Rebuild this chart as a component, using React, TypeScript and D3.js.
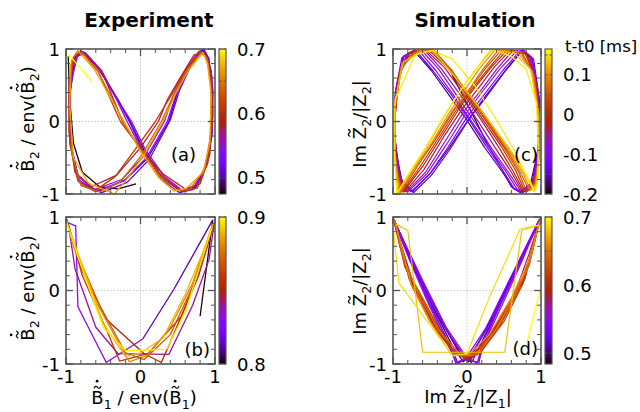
import React from 'react';
import * as d3 from 'd3';

const FONT = '"DejaVu Sans", sans-serif';
const FS = 18;

// ---------------- data ----------------
const axisTickValues = [-1, 0, 1];
const axisTickLabels = ['-1', '0', '1'];

// (a) experiment, colour = time [ms]
const expADomain = [0.475, 0.7];
const expACbTicks = [0.5, 0.6, 0.7];
const expATimes = [0.478, 0.495, 0.515, 0.535, 0.555, 0.58, 0.61, 0.64, 0.67, 0.7];
const expACurves = [
  [[-0.97, 0.9], [-0.95, 0.3], [-0.9, -0.3], [-0.78, -0.7], [-0.55, -0.9], [-0.3, -0.93], [-0.06, -0.86]],
  [[-0.78, 0.97], [-0.55, 0.72], [-0.3, 0.3], [-0.14, 0.0], [0.05, -0.4], [0.3, -0.78], [0.54, -0.96], [0.72, -0.93], [0.88, -0.62], [0.96, -0.15], [0.97, 0.45], [0.91, 0.88], [0.83, 0.99], [0.66, 0.76], [0.5, 0.42], [0.38, 0.0], [0.1, -0.5], [-0.2, -0.8], [-0.55, -0.96], [-0.82, -0.84], [-0.93, -0.35], [-0.95, 0.35], [-0.88, 0.88]],
  [[-0.8, 0.98], [-0.57, 0.74], [-0.32, 0.32], [-0.15, 0.0], [0.04, -0.42], [0.28, -0.8], [0.52, -0.98], [0.7, -0.94], [0.87, -0.64], [0.96, -0.2], [0.97, 0.4], [0.92, 0.86], [0.85, 1.0], [0.68, 0.78], [0.52, 0.42], [0.4, 0.02], [0.12, -0.52], [-0.18, -0.84], [-0.52, -0.98], [-0.8, -0.88], [-0.92, -0.42], [-0.96, 0.3], [-0.9, 0.86]],
  [[-0.76, 0.96], [-0.54, 0.7], [-0.3, 0.28], [-0.12, 0.0], [0.06, -0.38], [0.32, -0.76], [0.56, -0.95], [0.74, -0.9], [0.9, -0.55], [0.96, 0.0], [0.95, 0.6], [0.88, 0.94], [0.8, 0.97], [0.62, 0.72], [0.48, 0.38], [0.36, 0.0], [0.08, -0.5], [-0.22, -0.82], [-0.6, -0.96], [-0.84, -0.8], [-0.94, -0.25], [-0.94, 0.45], [-0.86, 0.9]],
  [[-0.74, 0.95], [-0.52, 0.7], [-0.32, 0.3], [-0.18, 0.0], [0.02, -0.4], [0.3, -0.78], [0.55, -0.96], [0.74, -0.92], [0.9, -0.58], [0.97, 0.05], [0.96, 0.62], [0.88, 0.92], [0.78, 0.96], [0.6, 0.7], [0.44, 0.36], [0.32, 0.0], [0.06, -0.46], [-0.25, -0.8], [-0.62, -0.94], [-0.86, -0.74], [-0.95, -0.2], [-0.95, 0.5], [-0.84, 0.92]],
  [[-0.72, 0.92], [-0.5, 0.65], [-0.36, 0.3], [-0.24, 0.0], [-0.02, -0.35], [0.3, -0.72], [0.6, -0.93], [0.8, -0.86], [0.93, -0.46], [0.97, 0.1], [0.95, 0.7], [0.86, 0.95], [0.72, 0.92], [0.52, 0.58], [0.36, 0.3], [0.24, 0.0], [0.0, -0.36], [-0.32, -0.74], [-0.66, -0.9], [-0.88, -0.7], [-0.96, -0.15], [-0.96, 0.55], [-0.88, 0.9]],
  [[-0.78, 0.96], [-0.56, 0.68], [-0.4, 0.3], [-0.27, 0.0], [-0.04, -0.32], [0.26, -0.72], [0.56, -0.96], [0.76, -0.92], [0.9, -0.58], [0.96, -0.05], [0.95, 0.55], [0.88, 0.9], [0.78, 0.96], [0.58, 0.66], [0.4, 0.34], [0.2, 0.0], [-0.04, -0.34], [-0.34, -0.76], [-0.62, -0.96], [-0.84, -0.82], [-0.95, -0.3], [-0.96, 0.4], [-0.9, 0.88]],
  [[-0.8, 0.97], [-0.58, 0.7], [-0.38, 0.32], [-0.24, 0.0], [0.0, -0.38], [0.26, -0.76], [0.48, -0.95], [0.66, -0.94], [0.86, -0.66], [0.94, -0.2], [0.95, 0.45], [0.9, 0.86], [0.82, 0.96], [0.62, 0.7], [0.44, 0.36], [0.28, 0.0], [0.02, -0.46], [-0.28, -0.84], [-0.55, -0.97], [-0.8, -0.88], [-0.92, -0.45], [-0.95, 0.3], [-0.92, 0.85]],
  [[-0.84, 0.98], [-0.62, 0.72], [-0.4, 0.32], [-0.22, 0.0], [0.0, -0.42], [0.25, -0.78], [0.45, -0.96], [0.62, -0.92], [0.84, -0.7], [0.93, -0.3], [0.95, 0.35], [0.9, 0.8], [0.84, 0.95], [0.64, 0.7], [0.46, 0.36], [0.3, 0.0], [0.05, -0.46], [-0.2, -0.82], [-0.35, -1.0], [-0.7, -0.85], [-0.9, -0.5], [-0.95, 0.2], [-0.94, 0.8]],
  [[-0.94, 0.8], [-0.96, 0.92], [-0.66, 0.56]],
];

// (b) experiment
const expBDomain = [0.8, 0.9];
const expBCbTicks = [0.8, 0.9];
const expBTimes = [0.801, 0.812, 0.83, 0.84, 0.85, 0.86, 0.87, 0.88, 0.89, 0.898];
const expBCurves = [
  [[0.8, -0.35], [0.97, 0.96]],
  [[0.97, 0.96], [0.45, 0.02], [0.03, -0.66]],
  [[0.03, -0.66], [-0.46, -0.98], [-0.84, -0.22], [-0.87, 0.88], [-0.97, 0.92]],
  [[-0.97, 0.92], [-0.88, 0.3], [-0.6, -0.5], [-0.3, -0.86], [0.38, -0.87], [0.7, -0.2], [0.92, 0.42], [0.99, 0.92]],
  [[0.99, 0.92], [0.78, 0.2], [0.52, -0.42], [0.28, -0.98], [0.05, -0.86], [-0.45, -0.4], [-0.8, 0.3], [-0.99, 0.97]],
  [[-0.99, 0.97], [-0.78, 0.2], [-0.45, -0.55], [-0.28, -0.96], [0.1, -0.86], [0.55, -0.35], [0.85, 0.45], [0.98, 0.92]],
  [[0.98, 0.92], [0.7, 0.05], [0.4, -0.6], [0.05, -0.94], [-0.2, -0.85], [-0.55, -0.2], [-0.85, 0.5], [-1.0, 0.98]],
  [[-1.0, 0.98], [-0.9, 0.6], [-0.6, -0.15], [-0.3, -0.7], [-0.15, -0.97], [0.1, -0.88], [0.4, -0.5], [0.7, 0.1], [0.97, 0.9]],
  [[0.97, 0.9], [0.85, 0.55], [0.6, -0.05], [0.3, -0.65], [0.0, -0.85], [-0.2, -0.9], [-0.5, -0.45], [-0.8, 0.4], [-1.0, 0.95]],
  [[-1.0, 0.95], [-0.75, 0.2], [-0.5, -0.5], [-0.2, -0.82], [0.35, -0.8], [0.6, -0.3], [0.88, 0.6], [0.96, 0.85]],
];

// (c) simulation
const simCDomain = [-0.2, 0.165];
const simCCbTicks = [-0.2, -0.1, 0, 0.1];
const simCTimes = [-0.195, -0.17, -0.14, -0.11, -0.085, -0.06, -0.035, -0.01, 0.015, 0.04, 0.07, 0.1, 0.13, 0.155];
const simCCurves = [
  [[-0.2, 0.64], [0.05, 0.15], [0.27, -0.3]],
  [[0.27, -0.3], [0.45, -0.62], [0.6, -0.9], [0.72, -0.98], [0.86, -0.85], [0.96, -0.4], [0.98, 0.25], [0.88, 0.85], [0.74, 0.98], [0.5, 0.68], [0.25, 0.35], [0.0, 0.0], [-0.25, -0.38], [-0.5, -0.72], [-0.74, -0.97], [-0.88, -0.82], [-0.98, -0.3], [-0.97, 0.35], [-0.86, 0.9], [-0.72, 0.98], [-0.48, 0.7], [-0.24, 0.36], [0.0, 0.02], [0.24, -0.36]],
  [[0.24, -0.36], [0.48, -0.7], [0.62, -0.92], [0.74, -0.99], [0.88, -0.84], [0.97, -0.35], [0.98, 0.3], [0.9, 0.86], [0.76, 0.99], [0.52, 0.7], [0.26, 0.34], [0.02, 0.02], [-0.24, -0.4], [-0.48, -0.74], [-0.72, -0.98], [-0.9, -0.8], [-0.98, -0.25], [-0.97, 0.4], [-0.88, 0.88], [-0.7, 0.99], [-0.46, 0.7], [-0.22, 0.38], [0.02, 0.04], [0.26, -0.34]],
  [[0.26, -0.34], [0.5, -0.7], [0.64, -0.93], [0.76, -0.98], [0.9, -0.82], [0.97, -0.3], [0.97, 0.35], [0.88, 0.88], [0.72, 0.98], [0.48, 0.7], [0.24, 0.38], [0.0, 0.06], [-0.26, -0.36], [-0.5, -0.72], [-0.76, -0.97], [-0.9, -0.78], [-0.98, -0.2], [-0.96, 0.45], [-0.85, 0.9], [-0.66, 0.99], [-0.42, 0.7], [-0.18, 0.36], [0.05, 0.02], [0.3, -0.36]],
  [[0.3, -0.36], [0.52, -0.68], [0.68, -0.94], [0.8, -0.97], [0.92, -0.78], [0.97, -0.25], [0.96, 0.4], [0.86, 0.9], [0.68, 0.98], [0.44, 0.72], [0.2, 0.4], [-0.02, 0.1], [-0.28, -0.32], [-0.54, -0.72], [-0.8, -0.97], [-0.92, -0.72], [-0.98, -0.15], [-0.95, 0.5], [-0.82, 0.92], [-0.62, 0.99], [-0.38, 0.72], [-0.14, 0.36], [0.1, 0.0], [0.34, -0.38]],
  [[0.34, -0.38], [0.56, -0.7], [0.72, -0.95], [0.82, -0.96], [0.94, -0.72], [0.98, -0.2], [0.95, 0.45], [0.84, 0.92], [0.62, 0.98], [0.4, 0.72], [0.18, 0.42], [-0.04, 0.14], [-0.3, -0.28], [-0.56, -0.7], [-0.82, -0.97], [-0.94, -0.7], [-0.98, -0.1], [-0.94, 0.55], [-0.8, 0.94], [-0.58, 0.99], [-0.34, 0.72], [-0.1, 0.38], [0.14, 0.02], [0.38, -0.36]],
  [[0.38, -0.36], [0.6, -0.7], [0.74, -0.95], [0.84, -0.95], [0.95, -0.68], [0.98, -0.15], [0.94, 0.5], [0.82, 0.93], [0.58, 0.98], [0.36, 0.74], [0.14, 0.44], [-0.06, 0.18], [-0.32, -0.22], [-0.58, -0.66], [-0.84, -0.97], [-0.95, -0.66], [-0.98, -0.05], [-0.93, 0.6], [-0.78, 0.95], [-0.56, 0.99], [-0.3, 0.74], [-0.06, 0.4], [0.18, 0.04], [0.42, -0.34]],
  [[0.42, -0.34], [0.62, -0.68], [0.76, -0.95], [0.86, -0.94], [0.96, -0.64], [0.98, -0.1], [0.93, 0.55], [0.8, 0.94], [0.54, 0.98], [0.32, 0.74], [0.1, 0.46], [-0.08, 0.22], [-0.34, -0.2], [-0.6, -0.62], [-0.86, -0.97], [-0.96, -0.62], [-0.98, 0.0], [-0.92, 0.65], [-0.76, 0.96], [-0.52, 0.99], [-0.26, 0.74], [-0.02, 0.38], [0.22, 0.02], [0.46, -0.34]],
  [[0.46, -0.34], [0.66, -0.68], [0.78, -0.96], [0.88, -0.92], [0.96, -0.6], [0.98, -0.05], [0.92, 0.6], [0.78, 0.95], [0.5, 0.98], [0.28, 0.72], [0.06, 0.44], [-0.12, 0.2], [-0.38, -0.22], [-0.62, -0.6], [-0.87, -0.97], [-0.96, -0.6], [-0.98, 0.05], [-0.9, 0.7], [-0.72, 0.97], [-0.48, 0.99], [-0.22, 0.72], [0.02, 0.36], [0.26, 0.0], [0.5, -0.36]],
  [[0.5, -0.36], [0.7, -0.7], [0.8, -0.96], [0.9, -0.9], [0.97, -0.55], [0.98, 0.0], [0.91, 0.62], [0.74, 0.96], [0.46, 0.98], [0.24, 0.72], [0.02, 0.42], [-0.16, 0.18], [-0.42, -0.24], [-0.66, -0.6], [-0.88, -0.97], [-0.97, -0.55], [-0.98, 0.1], [-0.9, 0.72], [-0.7, 0.97], [-0.46, 0.99], [-0.2, 0.7], [0.04, 0.32], [0.3, -0.04], [0.54, -0.4]],
  [[0.54, -0.4], [0.72, -0.7], [0.84, -0.95], [0.92, -0.88], [0.97, -0.5], [0.98, 0.05], [0.9, 0.65], [0.72, 0.96], [0.42, 0.98], [0.2, 0.7], [0.0, 0.4], [-0.2, 0.14], [-0.44, -0.26], [-0.7, -0.62], [-0.9, -0.98], [-0.97, -0.5], [-0.98, 0.15], [-0.88, 0.76], [-0.66, 0.98], [-0.44, 0.98], [-0.18, 0.66], [0.08, 0.3], [0.34, -0.08], [0.58, -0.44]],
  [[0.58, -0.44], [0.76, -0.72], [0.86, -0.95], [0.93, -0.86], [0.97, -0.45], [0.97, 0.1], [0.88, 0.7], [0.68, 0.96], [0.38, 0.99], [0.16, 0.72], [-0.04, 0.42], [-0.24, 0.12], [-0.48, -0.3], [-0.72, -0.66], [-0.92, -0.98], [-0.97, -0.45], [-0.98, 0.2], [-0.88, 0.8], [-0.64, 0.97], [-0.46, 0.97], [-0.16, 0.62], [0.12, 0.26], [0.4, -0.14], [0.64, -0.5]],
  [[0.64, -0.5], [0.8, -0.76], [0.9, -0.96], [0.95, -0.82], [0.97, -0.4], [0.96, 0.15], [0.86, 0.72], [0.64, 0.94], [0.34, 0.99], [0.12, 0.72], [-0.08, 0.44], [-0.28, 0.12], [-0.52, -0.32], [-0.76, -0.7], [-0.94, -0.99], [-0.98, -0.4], [-0.98, 0.25], [-0.86, 0.82], [-0.64, 0.95], [-0.46, 0.98], [-0.14, 0.58], [0.16, 0.2], [0.46, -0.22], [0.7, -0.56]],
  [[0.7, -0.56], [0.84, -0.8], [0.92, -0.97], [0.96, -0.8], [0.96, -0.3], [0.94, 0.25], [0.8, 0.72], [0.6, 0.9], [0.32, 1.0], [0.08, 0.66], [-0.12, 0.38], [-0.32, 0.06], [-0.56, -0.36], [-0.8, -0.74], [-0.95, -1.0], [-0.98, -0.45], [-0.97, 0.3], [-0.7, 0.92], [-0.46, 0.98], [-0.2, 0.86], [0.1, 0.5], [0.4, 0.02], [0.64, -0.4], [0.9, -0.95]],
];

// (d) simulation
const simDDomain = [0.484, 0.7];
const simDCbTicks = [0.5, 0.6, 0.7];
const simDTimes = [0.488, 0.497, 0.506, 0.515, 0.524, 0.533, 0.542, 0.551, 0.56, 0.569, 0.578, 0.587, 0.596, 0.605, 0.614, 0.623, 0.635, 0.648, 0.662, 0.68, 0.69, 0.7];
const simDCurves = [
  [[1.0, 0.98], [0.7, 0.35], [0.4, -0.3], [0.15, -0.8], [0.02, -0.97], [-0.12, -0.82], [-0.4, -0.3], [-0.7, 0.32], [-0.98, 0.95]],
  [[-0.98, 0.95], [-0.72, 0.35], [-0.45, -0.25], [-0.2, -0.75], [-0.05, -0.97], [0.08, -0.85], [0.36, -0.35], [0.66, 0.3], [0.98, 0.96]],
  [[0.98, 0.96], [0.68, 0.3], [0.42, -0.25], [0.18, -0.75], [0.06, -0.98], [-0.1, -0.85], [-0.42, -0.3], [-0.72, 0.3], [-0.99, 0.95]],
  [[-0.99, 0.95], [-0.75, 0.38], [-0.5, -0.2], [-0.25, -0.7], [-0.12, -0.99], [0.05, -0.9], [0.32, -0.4], [0.62, 0.22], [0.97, 0.95]],
  [[0.97, 0.95], [0.72, 0.38], [0.46, -0.18], [0.22, -0.68], [0.14, -0.99], [-0.06, -0.9], [-0.34, -0.42], [-0.64, 0.2], [-0.98, 0.94]],
  [[-0.98, 0.94], [-0.7, 0.3], [-0.44, -0.3], [-0.22, -0.8], [-0.15, -0.99], [0.0, -0.9], [0.26, -0.5], [0.56, 0.12], [0.98, 0.97]],
  [[0.98, 0.97], [0.66, 0.28], [0.38, -0.35], [0.2, -0.8], [0.16, -0.99], [-0.02, -0.92], [-0.3, -0.5], [-0.6, 0.1], [-0.99, 0.96]],
  [[-0.99, 0.96], [-0.78, 0.42], [-0.54, -0.14], [-0.3, -0.66], [-0.14, -0.98], [0.02, -0.92], [0.3, -0.48], [0.6, 0.14], [0.98, 0.97]],
  [[0.98, 0.97], [0.76, 0.44], [0.52, -0.1], [0.28, -0.62], [0.14, -0.98], [0.0, -0.92], [-0.28, -0.5], [-0.58, 0.1], [-0.99, 0.96]],
  [[-0.99, 0.96], [-0.86, 0.52], [-0.7, 0.02], [-0.42, -0.5], [-0.14, -0.88], [0.04, -0.92], [0.3, -0.62], [0.52, -0.25], [0.76, 0.12], [0.99, 0.98]],
  [[0.99, 0.98], [0.84, 0.5], [0.66, 0.0], [0.4, -0.5], [0.16, -0.85], [0.02, -0.93], [-0.2, -0.8], [-0.46, -0.4], [-0.72, 0.05], [-0.99, 0.96]],
  [[-0.99, 0.96], [-0.88, 0.55], [-0.72, 0.05], [-0.46, -0.45], [-0.18, -0.84], [0.02, -0.94], [0.3, -0.65], [0.55, -0.2], [0.78, 0.15], [0.99, 0.97]],
  [[0.99, 0.97], [0.88, 0.55], [0.72, 0.05], [0.46, -0.45], [0.18, -0.84], [-0.02, -0.94], [-0.3, -0.65], [-0.55, -0.2], [-0.78, 0.15], [-0.99, 0.97]],
  [[-0.99, 0.97], [-0.9, 0.58], [-0.74, 0.05], [-0.46, -0.48], [-0.16, -0.86], [0.06, -0.9], [0.34, -0.58], [0.6, -0.12], [0.8, 0.25], [0.98, 0.96]],
  [[0.98, 0.96], [0.9, 0.6], [0.76, 0.1], [0.5, -0.42], [0.2, -0.82], [-0.04, -0.92], [-0.34, -0.6], [-0.62, -0.1], [-0.84, 0.32], [-0.99, 0.96]],
  [[-0.99, 0.96], [-0.9, 0.6], [-0.76, 0.1], [-0.5, -0.42], [-0.2, -0.82], [0.04, -0.9], [0.36, -0.56], [0.62, -0.08], [0.84, 0.34], [0.98, 0.95]],
  [[0.98, 0.95], [0.88, 0.52], [0.7, 0.02], [0.42, -0.5], [0.12, -0.86], [-0.08, -0.9], [-0.36, -0.56], [-0.6, -0.1], [-0.82, 0.3], [-0.98, 0.95]],
  [[-0.98, 0.95], [-0.86, 0.45], [-0.66, -0.05], [-0.38, -0.55], [-0.08, -0.88], [0.14, -0.88], [0.4, -0.52], [0.64, -0.06], [0.84, 0.35], [0.98, 0.94]],
  [[0.98, 0.94], [0.84, 0.42], [0.6, -0.1], [0.3, -0.6], [0.02, -0.88], [-0.22, -0.86], [-0.5, -0.42], [-0.76, 0.1], [-0.96, 0.9]],
  [[-0.96, 0.9], [-0.8, 0.82], [-0.6, -0.84], [0.51, -0.84], [0.74, 0.82], [0.97, 0.89]],
  [[0.97, 0.89], [0.72, 0.84], [0.3, -0.1], [0.0, -0.86], [-0.19, -0.89], [-0.92, 0.1], [-0.99, 0.78]],
  [[0.99, 0.01], [0.81, -0.71]],
];

// ---------------- helpers ----------------
function palette(v: number): string {
  const x = Math.max(0, Math.min(1, v));
  const r = Math.sqrt(x);
  const g = x * x * x;
  const b = Math.max(0, Math.sin(2 * Math.PI * x));
  return d3.rgb(r * 255, g * 255, b * 255).formatHex();
}

let _ctx: CanvasRenderingContext2D | null = null;
function textWidth(t: string, size: number): number {
  if (!_ctx) _ctx = document.createElement('canvas').getContext('2d');
  if (!_ctx) return t.length * size * 0.6;
  _ctx.font = `${size}px "DejaVu Sans"`;
  return _ctx.measureText(t).width;
}

type Seg = { t: string; sub?: boolean; acc?: 'tilde' | 'tildedot' };

function RichLabel({ segs, x, y, rotate = 0, size = FS }: { segs: Seg[]; x: number; y: number; rotate?: number; size?: number }) {
  let cx = 0;
  const items = segs.map((s) => {
    const fs = s.sub ? size * 0.7 : size;
    const w = textWidth(s.t, fs);
    const it = { ...s, x: cx, w, fs };
    cx += w;
    return it;
  });
  const off = -cx / 2;
  return (
    <g transform={`translate(${x},${y}) rotate(${rotate})`}>
      <text fontFamily={FONT} fill="#000">
        {items.map((it, i) => (
          <tspan key={i} x={off + it.x} y={it.sub ? size * 0.3 : 0} fontSize={it.fs}>
            {it.t}
          </tspan>
        ))}
      </text>
      {items.filter((it) => it.acc).map((it, i) => {
        const c = off + it.x + it.w * 0.5;
        const ty = -size * 0.93;
        const hw = size * 0.2;
        const a = size * 0.06;
        return (
          <g key={'a' + i}>
            <path d={`M${c - hw},${ty + a} Q${c - hw / 2},${ty - 2.2 * a} ${c},${ty} T${c + hw},${ty - a}`} fill="none" stroke="#000" strokeWidth={1.2} />
            {it.acc === 'tildedot' && <circle cx={c - size * 0.02} cy={-size * 1.27} r={size * 0.075} fill="#000" />}
          </g>
        );
      })}
    </g>
  );
}

type PanelProps = {
  id: string;
  x0: number; x1: number; y0: number; y1: number;
  cbX: number;
  domain: number[];
  cbTicks: number[];
  cbStep: number;
  times: number[];
  curves: number[][][];
  tag: string; tagX: number; tagY: number;
  xLabels: boolean;
  sw: number;
};

const FRAME = '#555555';

function Panel(p: PanelProps) {
  const xs = d3.scaleLinear().domain([-1, 1]).range([p.x0, p.x1]);
  const ys = d3.scaleLinear().domain([-1, 1]).range([p.y1, p.y0]);
  const cs = d3.scaleLinear().domain(p.domain).range([p.y1, p.y0]);
  const norm = d3.scaleLinear().domain(p.domain).range([0, 1]).clamp(true);
  const line = d3.line<number[]>().x((d) => xs(d[0])).y((d) => ys(d[1]));
  const minor = d3.range(-8, 9, 2).filter((v) => v !== 0).map((v) => v / 10);
  const cbW = 7;
  const lo = Math.ceil(p.domain[0] / p.cbStep - 1e-6);
  const hi = Math.floor(p.domain[1] / p.cbStep + 1e-6);
  const cbMinor = d3.range(lo, hi + 1).map((k) => k * p.cbStep);
  const stops = d3.range(0, 41).map((i) => i / 40);

  const paths = p.curves.map((cyc, i) => {
    let pts = cyc;
    const nxt = p.curves[i + 1];
    if (nxt) {
      const a = cyc[cyc.length - 1];
      const b = nxt[0];
      if (Math.hypot(a[0] - b[0], a[1] - b[1]) < 0.35) pts = [...cyc, b];
    }
    return { d: line(pts) || '', c: palette(norm(p.times[i])) };
  });

  return (
    <g>
      <defs>
        <linearGradient id={p.id} x1="0" y1="1" x2="0" y2="0">
          {stops.map((s) => (
            <stop key={s} offset={s} stopColor={palette(s)} />
          ))}
        </linearGradient>
      </defs>
      <line x1={xs(0)} x2={xs(0)} y1={p.y0} y2={p.y1} stroke="#b0b0b0" strokeWidth={0.8} strokeDasharray="1.2,2" />
      <line x1={p.x0} x2={p.x1} y1={ys(0)} y2={ys(0)} stroke="#b0b0b0" strokeWidth={0.8} strokeDasharray="1.2,2" />
      {paths.map((pp, i) => (
        <path key={i} d={pp.d} fill="none" stroke={pp.c} strokeWidth={p.sw} strokeLinejoin="round" />
      ))}
      {axisTickValues.map((v) => (
        <g key={'M' + v} stroke={FRAME} strokeWidth={1.3}>
          <line x1={xs(v)} x2={xs(v)} y1={p.y1} y2={p.y1 - 7} />
          <line x1={xs(v)} x2={xs(v)} y1={p.y0} y2={p.y0 + 7} />
          <line x1={p.x0} x2={p.x0 + 7} y1={ys(v)} y2={ys(v)} />
          <line x1={p.x1} x2={p.x1 - 7} y1={ys(v)} y2={ys(v)} />
        </g>
      ))}
      {minor.map((v) => (
        <g key={'m' + v} stroke={FRAME} strokeWidth={1}>
          <line x1={xs(v)} x2={xs(v)} y1={p.y1} y2={p.y1 - 4} />
          <line x1={xs(v)} x2={xs(v)} y1={p.y0} y2={p.y0 + 4} />
          <line x1={p.x0} x2={p.x0 + 4} y1={ys(v)} y2={ys(v)} />
          <line x1={p.x1} x2={p.x1 - 4} y1={ys(v)} y2={ys(v)} />
        </g>
      ))}
      <rect x={p.x0} y={p.y0} width={p.x1 - p.x0} height={p.y1 - p.y0} fill="none" stroke={FRAME} strokeWidth={1.6} />
      {axisTickValues.map((v, i) => (
        <text key={'yl' + v} x={p.x0 - 6} y={ys(v) + 6.5} textAnchor="end" fontFamily={FONT} fontSize={FS}>
          {axisTickLabels[i]}
        </text>
      ))}
      {p.xLabels &&
        axisTickValues.map((v, i) => (
          <text key={'xl' + v} x={xs(v)} y={p.y1 + 19} textAnchor="middle" fontFamily={FONT} fontSize={FS}>
            {axisTickLabels[i]}
          </text>
        ))}
      <text x={p.tagX} y={p.tagY} textAnchor="end" fontFamily={FONT} fontSize={FS}>
        {p.tag}
      </text>
      <rect x={p.cbX} y={p.y0} width={cbW} height={p.y1 - p.y0} fill={`url(#${p.id})`} />
      {cbMinor.map((v) => (
        <g key={'cb' + v} stroke={FRAME} strokeWidth={1}>
          <line x1={p.cbX} x2={p.cbX + 2.5} y1={cs(v)} y2={cs(v)} />
          <line x1={p.cbX + cbW} x2={p.cbX + cbW - 2.5} y1={cs(v)} y2={cs(v)} />
        </g>
      ))}
      <rect x={p.cbX} y={p.y0} width={cbW} height={p.y1 - p.y0} fill="none" stroke={FRAME} strokeWidth={1.2} />
      {p.cbTicks.map((v) => (
        <text key={'cbl' + v} x={p.cbX + cbW + 11} y={cs(v) + 6.5} fontFamily={FONT} fontSize={FS}>
          {String(v)}
        </text>
      ))}
    </g>
  );
}

const bLabel2: Seg[] = [
  { t: 'B', acc: 'tildedot' }, { t: '2', sub: true }, { t: ' / env(' }, { t: 'B', acc: 'tildedot' }, { t: '2', sub: true }, { t: ')' },
];
const bLabel1: Seg[] = [
  { t: 'B', acc: 'tildedot' }, { t: '1', sub: true }, { t: ' / env(' }, { t: 'B', acc: 'tildedot' }, { t: '1', sub: true }, { t: ')' },
];
const zLabel2: Seg[] = [
  { t: 'Im ' }, { t: 'Z', acc: 'tilde' }, { t: '2', sub: true }, { t: '/|Z' }, { t: '2', sub: true }, { t: '|' },
];
const zLabel1: Seg[] = [
  { t: 'Im ' }, { t: 'Z', acc: 'tilde' }, { t: '1', sub: true }, { t: '/|Z' }, { t: '1', sub: true }, { t: '|' },
];

export default function App() {
  return (
    <svg width={640} height={412} style={{ position: 'absolute', left: 0, top: 0, background: '#fff' }} fontFamily={FONT}>
      <rect x={0} y={0} width={640} height={412} fill="#fff" />
      <text x={149} y={27} textAnchor="middle" fontFamily={FONT} fontSize={20} fontWeight="bold">Experiment</text>
      <text x={475} y={27} textAnchor="middle" fontFamily={FONT} fontSize={20} fontWeight="bold">Simulation</text>

      <Panel id="ga" x0={66} x1={215} y0={49} y1={194} cbX={219} domain={expADomain} cbTicks={expACbTicks} cbStep={0.05}
        times={expATimes} curves={expACurves} tag="(a)" tagX={196} tagY={161} xLabels={false} sw={1.3} />
      <Panel id="gb" x0={66} x1={215} y0={217} y1={364} cbX={219} domain={expBDomain} cbTicks={expBCbTicks} cbStep={0.05}
        times={expBTimes} curves={expBCurves} tag="(b)" tagX={210} tagY={356} xLabels={true} sw={1.3} />
      <Panel id="gc" x0={393} x1={541} y0={49} y1={194} cbX={545} domain={simCDomain} cbTicks={simCCbTicks} cbStep={0.05}
        times={simCTimes} curves={simCCurves} tag="(c)" tagX={538} tagY={161} xLabels={false} sw={1.2} />
      <Panel id="gd" x0={393} x1={541} y0={217} y1={364} cbX={545} domain={simDDomain} cbTicks={simDCbTicks} cbStep={0.05}
        times={simDTimes} curves={simDCurves} tag="(d)" tagX={538} tagY={355} xLabels={true} sw={1.2} />

      <RichLabel segs={bLabel2} x={34} y={119} rotate={-90} />
      <RichLabel segs={bLabel2} x={34} y={288} rotate={-90} />
      <RichLabel segs={zLabel2} x={366} y={124} rotate={-90} />
      <RichLabel segs={zLabel2} x={366} y={291} rotate={-90} />
      <RichLabel segs={bLabel1} x={144} y={404} />
      <RichLabel segs={zLabel1} x={468} y={403} />

      <text x={565} y={52} fontFamily={FONT} fontSize={16.5}>t-t0 [ms]</text>
    </svg>
  );
}
